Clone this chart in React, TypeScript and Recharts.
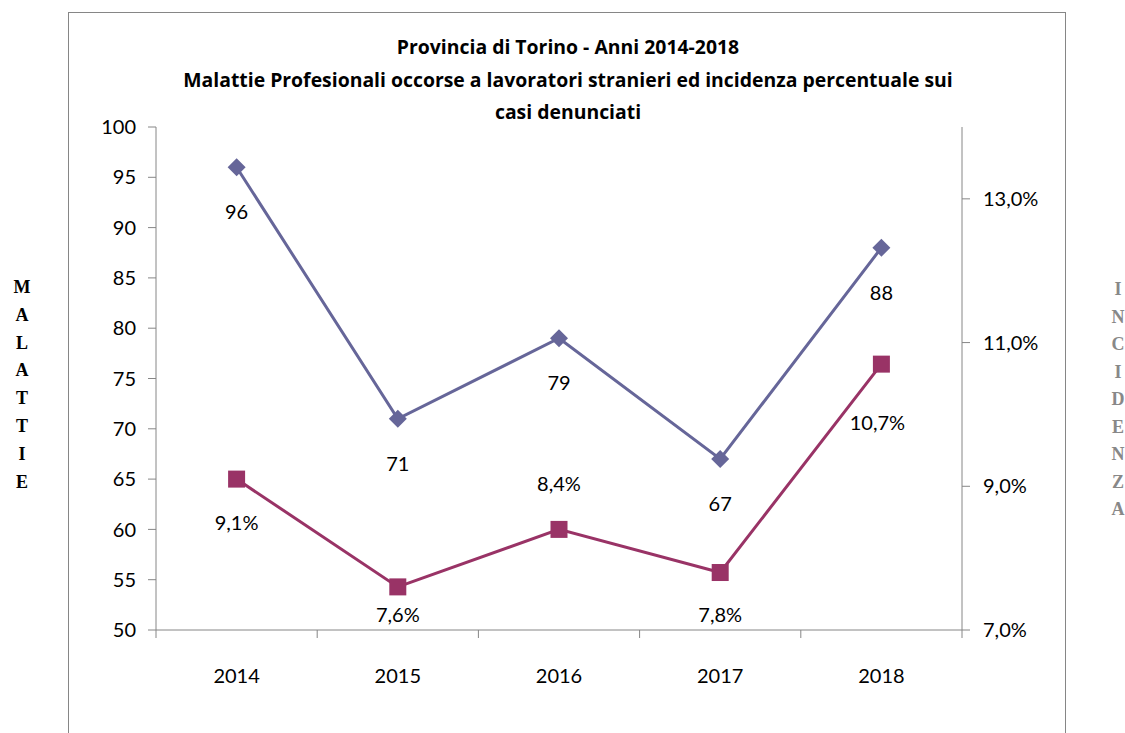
import React from 'react';
import { LineChart, Line, XAxis, YAxis, LabelList } from 'recharts';

const years = ['2014', '2015', '2016', '2017', '2018'];
const malattie = [96, 71, 79, 67, 88];
const incidenza = [9.1, 7.6, 8.4, 7.8, 10.7];
const leftTicks = [50, 55, 60, 65, 70, 75, 80, 85, 90, 95, 100];
const rightTicks = [7, 9, 11, 13];
const titleLines = [
  'Provincia di Torino - Anni 2014-2018',
  'Malattie Profesionali occorse a lavoratori stranieri ed incidenza percentuale sui',
  'casi denunciati',
];
const leftTitle = 'MALATTIE';
const rightTitle = 'INCIDENZA';

const data = years.map((year, i) => ({ year, malattie: malattie[i], incidenza: incidenza[i] }));

const W = 1125;
const H = 733;
const PLOT_LEFT = 156;
const PLOT_RIGHT = 962;
const PLOT_TOP = 127;
const PLOT_BOTTOM = 630;
const BAND = (PLOT_RIGHT - PLOT_LEFT) / years.length;

const AXIS = '#868686';
const BLUE = '#666699';
const PINK = '#993366';
const FONT = 'Lato, "Open Sans", sans-serif';

// label offsets (px) relative to each point
const blueDy = [44, 44, 44, 44, 44];
const pinkDy = [43, 27, -46, 41, 58];
const pinkDx = [0, 0, 0, 0, -4];

const fmtPct = (v: number) => v.toFixed(1).replace('.', ',') + '%';

const Diamond = (p: any) => {
  const { cx, cy } = p;
  if (cx == null || cy == null) return null;
  const r = 9;
  return (
    <polygon
      key={`d-${p.index}`}
      points={`${cx},${cy - r} ${cx + r},${cy} ${cx},${cy + r} ${cx - r},${cy}`}
      fill={BLUE}
    />
  );
};

const Square = (p: any) => {
  const { cx, cy } = p;
  if (cx == null || cy == null) return null;
  const s = 17;
  return <rect key={`s-${p.index}`} x={cx - s / 2} y={cy - s / 2} width={s} height={s} fill={PINK} />;
};

const YearTick = (p: any) => {
  const { x, payload, index } = p;
  return (
    <g>
      <line x1={x - BAND / 2} x2={x - BAND / 2} y1={PLOT_BOTTOM} y2={PLOT_BOTTOM + 8} stroke={AXIS} />
      {index === years.length - 1 && (
        <line x1={x + BAND / 2} x2={x + BAND / 2} y1={PLOT_BOTTOM} y2={PLOT_BOTTOM + 8} stroke={AXIS} />
      )}
      <text x={x} y={PLOT_BOTTOM + 45} textAnchor="middle" dominantBaseline="central" fontSize={20} fill="#000" fontFamily={FONT}>
        {payload.value}
      </text>
    </g>
  );
};

const blueLabel = (p: any) => (
  <text
    x={p.x}
    y={p.y + blueDy[p.index]}
    textAnchor="middle"
    dominantBaseline="central"
    fontSize={20}
    fill="#000"
    fontFamily={FONT}
  >
    {p.value}
  </text>
);

const pinkLabel = (p: any) => (
  <text
    x={p.x + pinkDx[p.index]}
    y={p.y + pinkDy[p.index]}
    textAnchor="middle"
    dominantBaseline="central"
    fontSize={20}
    fill="#000"
    fontFamily={FONT}
  >
    {fmtPct(Number(p.value))}
  </text>
);

export default function App() {
  return (
    <div style={{ position: 'fixed', left: 0, top: 0, width: W, height: H, background: '#fff', overflow: 'hidden' }}>
      {/* outer frame */}
      <div
        style={{
          position: 'absolute',
          left: 68,
          top: 12,
          width: 998,
          height: 800,
          border: `1px solid ${AXIS}`,
          borderBottom: 'none',
          boxSizing: 'border-box',
        }}
      />

      {/* title */}
      <div
        style={{
          position: 'absolute',
          left: 0,
          width: 1136,
          top: 31,
          textAlign: 'center',
          fontFamily: '"Open Sans", Lato, sans-serif',
          fontWeight: 700,
          fontSize: 19.4,
          lineHeight: '32.5px',
          color: '#000',
        }}
      >
        {titleLines.map((t) => (
          <div key={t}>{t}</div>
        ))}
      </div>

      {/* vertical axis titles */}
      <div style={{ position: 'absolute', left: 10, top: 274, width: 24, textAlign: 'center' }}>
        {leftTitle.split('').map((c, i) => (
          <div key={i} style={{ fontFamily: '"Liberation Serif", serif', fontWeight: 700, fontSize: 18, lineHeight: '27.8px', color: '#000' }}>
            {c}
          </div>
        ))}
      </div>
      <div style={{ position: 'absolute', left: 1106, top: 276, width: 24, textAlign: 'center' }}>
        {rightTitle.split('').map((c, i) => (
          <div key={i} style={{ fontFamily: '"Liberation Serif", serif', fontWeight: 700, fontSize: 18, lineHeight: '27.5px', color: '#888' }}>
            {c}
          </div>
        ))}
      </div>

      <div style={{ position: 'absolute', left: 0, top: 0 }}>
        <LineChart
          width={W}
          height={H}
          data={data}
          margin={{ top: PLOT_TOP, bottom: H - PLOT_BOTTOM - 40, left: PLOT_LEFT - 60, right: W - PLOT_RIGHT - 80 }}
        >
          <XAxis
            dataKey="year"
            height={40}
            padding={{ left: BAND / 2, right: BAND / 2 }}
            axisLine={{ stroke: AXIS }}
            tickLine={false}
            tick={<YearTick />}
            interval={0}
          />
          <YAxis
            yAxisId="left"
            width={60}
            domain={[50, 100]}
            ticks={leftTicks}
            interval={0}
            axisLine={{ stroke: AXIS }}
            tickLine={{ stroke: AXIS }}
            tickSize={8}
            tickMargin={12}
            tick={{ fontSize: 20, fill: '#000', fontFamily: FONT }}
          />
          <YAxis
            yAxisId="right"
            orientation="right"
            width={80}
            domain={[7, 14]}
            ticks={rightTicks}
            interval={0}
            tickFormatter={fmtPct}
            axisLine={{ stroke: AXIS }}
            tickLine={{ stroke: AXIS }}
            tickSize={8}
            tickMargin={13}
            tick={{ fontSize: 20, fill: '#000', fontFamily: FONT }}
          />
          <Line
            yAxisId="left"
            dataKey="malattie"
            type="linear"
            stroke={BLUE}
            strokeWidth={3}
            dot={Diamond}
            activeDot={false}
            isAnimationActive={false}
          >
            <LabelList dataKey="malattie" content={blueLabel} />
          </Line>
          <Line
            yAxisId="right"
            dataKey="incidenza"
            type="linear"
            stroke={PINK}
            strokeWidth={3}
            dot={Square}
            activeDot={false}
            isAnimationActive={false}
          >
            <LabelList dataKey="incidenza" content={pinkLabel} />
          </Line>
        </LineChart>
      </div>
    </div>
  );
}
